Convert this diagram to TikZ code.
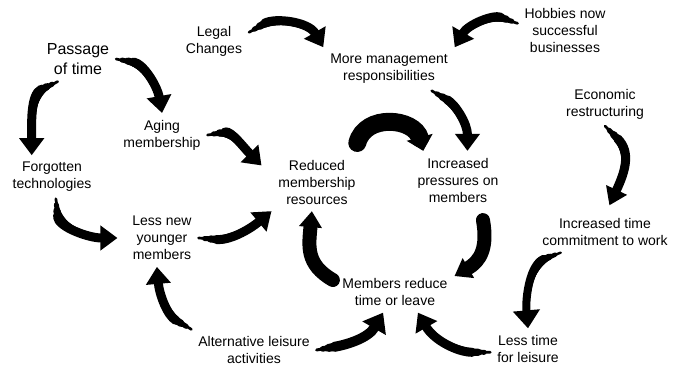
\documentclass[tikz,border=0pt]{standalone}
\usepackage{fontspec}
\setmainfont{Liberation Sans}
\usetikzlibrary{arrows.meta}

\tikzset{
  factor/.style={align=center, font=\fontsize{14}{17}\selectfont, inner sep=2pt, outer sep=5pt},
  brush/.style={draw=black, line cap=round}
}

% tapered curved arrow: [taper]{body width}{head width}{head length}{path}
\newcommand{\brusharrow}[5][18]{%
  \foreach \f [count=\i from 0] in {0.3,0.55,0.8}{%
    \draw[brush, line width=\f*#2pt, shorten <=\i*#1pt/3, shorten >=#4pt-3pt] #5;}
  \draw[brush, line width=#2pt, shorten <=#1pt, -{Triangle[length=#4pt,width=#3pt]}] #5;}

\begin{document}
\begin{tikzpicture}[x=1pt,y=1pt]
  \useasboundingbox (0,0) rectangle (678,-372);

  \node[factor, font=\fontsize{16}{20}\selectfont] (passage) at (78,-59) {Passage\\of time};
  \node[factor] (legal) at (214,-41) {Legal\\Changes};
  \node[factor] (hobbies) at (565,-30) {Hobbies now\\successful\\businesses};
  \node[factor] (more) at (389,-69) {More management\\responsibilities};
  \node[factor] (aging) at (162,-135) {Aging\\membership};
  \node[factor] (forgotten) at (52,-177) {Forgotten\\technologies};
  \node[factor] (reduced) at (317,-182) {Reduced\\membership\\resources};
  \node[factor] (increased) at (458,-180) {Increased\\pressures on\\members};
  \node[factor] (economic) at (605,-104) {Economic\\restructuring};
  \node[factor] (inctime) at (605,-232) {Increased time\\commitment to work};
  \node[factor] (lessnew) at (162,-238) {Less new\\younger\\members};
  \node[factor] (members) at (395,-292) {Members reduce\\time or leave};
  \node[factor] (alternative) at (254,-350) {Alternative leisure\\activities};
  \node[factor] (lesstime) at (528,-349) {Less time\\for leisure};

  \brusharrow{9}{24}{17}{(passage.east) to[out=-10,in=100] (aging.north)}
  \brusharrow{9}{24}{17}{(passage.228) to[out=205,in=90] (forgotten.133)}
  \brusharrow{9}{24}{17}{(legal.14) to[out=30,in=120] (more.north west)}
  \brusharrow{9}{24}{17}{(hobbies.172) to[out=160,in=60] (more.north east)}
  \brusharrow{9}{24}{17}{(aging.east) to[out=10,in=135] ([xshift=-10pt]reduced.160)}
  \brusharrow{9}{24}{17}{(more.-27) to[out=-30,in=90] (increased.72)}
  \brusharrow[3]{18}{26}{14}{([shift={(-6,7)}]reduced.north east) to[out=75,in=105,looseness=1.3] (increased.140)}
  \brusharrow{9}{22}{17}{(economic.south) to[out=-45,in=65,looseness=1.2] ([yshift=6pt]inctime.78)}
  \brusharrow{9}{24}{17}{(forgotten.-80) to[out=-85,in=180] ([xshift=-8pt]lessnew.west)}
  \brusharrow{9}{24}{17}{(lessnew.east) to[out=-5,in=220] (reduced.south west)}
  \brusharrow[3]{14}{22}{16}{([yshift=-8pt]increased.-50) to[out=-80,in=30,looseness=1.2] (members.15)}
  \brusharrow[3]{14}{22}{16}{(members.170) to[out=150,in=-95,looseness=1.2] (reduced.-100)}
  \brusharrow{9}{24}{17}{(alternative.north west) to[out=150,in=-85] (lessnew.-100)}
  \brusharrow{10}{26}{18}{(alternative.east) to[out=10,in=240] (members.-120)}
  \brusharrow{9}{24}{17}{(lesstime.185) to[out=180,in=-60] (members.-42)}
  \brusharrow{8}{26}{18}{(inctime.-155) to[out=200,in=95] (lesstime.north)}
\end{tikzpicture}
\end{document}
